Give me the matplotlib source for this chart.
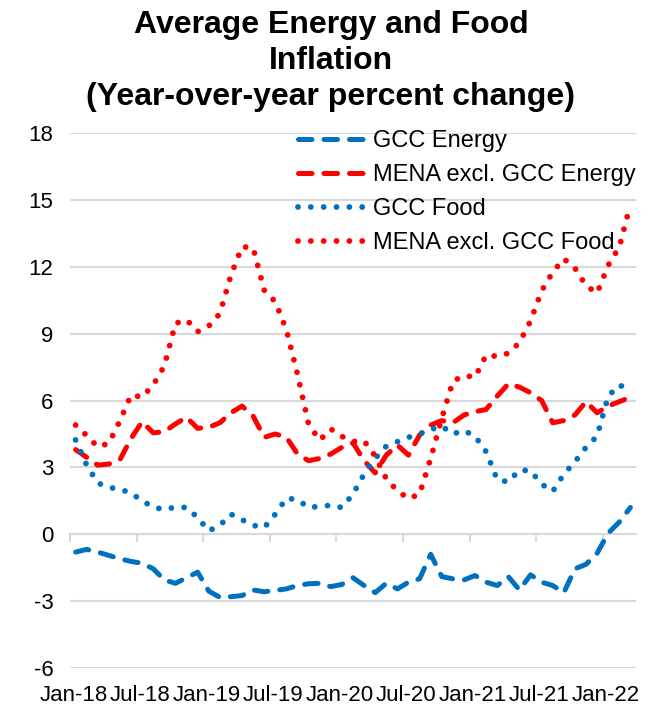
import matplotlib
matplotlib.use("Agg")
import matplotlib.pyplot as plt

plt.rcParams['font.family'] = ['Liberation Sans', 'DejaVu Sans']
plt.rcParams['axes.unicode_minus'] = False

# monthly, Jan-18 .. Mar-22
months = ["Jan-18", "Feb-18", "Mar-18", "Apr-18", "May-18", "Jun-18", "Jul-18", "Aug-18", "Sep-18", "Oct-18", "Nov-18", "Dec-18",
          "Jan-19", "Feb-19", "Mar-19", "Apr-19", "May-19", "Jun-19", "Jul-19", "Aug-19", "Sep-19", "Oct-19", "Nov-19", "Dec-19",
          "Jan-20", "Feb-20", "Mar-20", "Apr-20", "May-20", "Jun-20", "Jul-20", "Aug-20", "Sep-20", "Oct-20", "Nov-20", "Dec-20",
          "Jan-21", "Feb-21", "Mar-21", "Apr-21", "May-21", "Jun-21", "Jul-21", "Aug-21", "Sep-21", "Oct-21", "Nov-21", "Dec-21",
          "Jan-22", "Feb-22", "Mar-22"]

gcc_energy = [-0.8, -0.68, -0.8, -0.95, -1.1, -1.22, -1.3, -1.55, -2.05, -2.2, -1.95, -1.7,
              -2.55, -2.83, -2.8, -2.75, -2.5, -2.58, -2.52, -2.45, -2.3, -2.22, -2.2, -2.35,
              -2.25, -1.95, -2.3, -2.62, -2.2, -2.45, -2.15, -2.0, -0.9, -1.9, -2.0, -2.05,
              -1.85, -2.15, -2.3, -1.9, -2.5, -1.82, -2.15, -2.3, -2.62, -1.55, -1.35, -0.85,
              0.05, 0.55, 1.2]

mena_energy = [3.8, 3.45, 3.1, 3.15, 3.35, 4.3, 5.05, 4.55, 4.6, 4.95, 5.25, 4.75,
               4.8, 5.0, 5.45, 5.75, 5.3, 4.35, 4.5, 4.35, 3.6, 3.3, 3.4, 3.6,
               3.9, 4.1, 3.3, 2.75, 3.55, 4.0, 3.55, 4.45, 4.9, 5.1, 5.0, 5.35,
               5.5, 5.6, 6.2, 6.75, 6.6, 6.35, 6.0, 5.0, 5.1, 5.35, 5.95, 5.45,
               5.75, 5.95, 6.15]

gcc_food = [4.23, 3.1, 2.3, 2.1, 2.02, 1.85, 1.5, 1.22, 1.1, 1.22, 1.2, 0.75,
            0.15, 0.4, 0.9, 0.65, 0.4, 0.3, 0.9, 1.62, 1.55, 1.2, 1.25, 1.3,
            1.2, 1.8, 2.7, 3.4, 3.95, 4.15, 4.35, 4.5, 4.7, 4.85, 4.5, 4.65,
            4.4, 3.7, 2.45, 2.35, 2.88, 2.85, 2.25, 1.92, 2.7, 3.25, 3.9, 4.4,
            6.2, 6.7, 6.45]

mena_food = [4.9, 4.43, 3.92, 4.08, 5.1, 6.25, 6.15, 6.7, 7.55, 9.46, 9.62, 9.09,
             9.34, 9.9, 11.62, 12.9, 12.85, 10.95, 10.43, 9.17, 7.17, 4.93, 4.22, 4.72,
             4.39, 4.16, 4.19, 3.5, 2.49, 1.95, 1.6, 1.8, 3.4, 5.2, 6.86, 7.12,
             7.05, 8.04, 7.98, 8.12, 8.6, 9.57, 10.92, 11.76, 12.36, 11.94, 11.15, 10.82,
             12.07, 12.89, 14.8]

blue = "#0070C0"
red = "#FF0000"
grid_c = "#D9D9D9"

fig = plt.figure(figsize=(6.49, 7.08), dpi=100)
ax = fig.add_axes([0.1079, 0.0565, 0.872, 0.7556])

x = list(range(len(months)))
lw = 3.6
lw_dot = 4.2
dash = (2.7, 2.4)
dot = (0.001, 2.2)

ax.plot(x, gcc_energy, color=blue, lw=lw, dashes=dash, dash_capstyle='round', label="GCC Energy")
ax.plot(x, mena_energy, color=red, lw=lw, dashes=dash, dash_capstyle='round', label="MENA excl. GCC Energy")
ax.plot(x, gcc_food, color=blue, lw=lw_dot, dashes=dot, dash_capstyle='round', label="GCC Food")
ax.plot(x, mena_food, color=red, lw=lw_dot, dashes=dot, dash_capstyle='round', label="MENA excl. GCC Food")

ax.set_xlim(-0.5, len(months) - 0.5)
ax.set_ylim(-6, 18)
ax.set_yticks(range(-6, 19, 3))
ax.yaxis.grid(True, color=grid_c, lw=1.5)
ax.set_axisbelow(True)
for s in ax.spines.values():
    s.set_visible(False)
ax.tick_params(axis='y', length=0, pad=12, labelsize=16)

# category labels at the bottom
lab_idx = list(range(0, len(months), 6))
ax.set_xticks([i - 0.2 for i in lab_idx])
ax.set_xticklabels([months[i] for i in lab_idx], fontsize=16)
ax.tick_params(axis='x', length=0, pad=12)

# horizontal axis line at zero with tick marks between categories
sec = ax.secondary_xaxis(0.25)
sec.set_xticks([i - 0.5 for i in lab_idx])
sec.set_xticklabels([])
sec.tick_params(axis='x', length=6, width=1.5, color=grid_c, direction='out')
sec.spines['bottom'].set_color(grid_c)
sec.spines['bottom'].set_linewidth(1.5)

leg = ax.legend(loc='upper right', bbox_to_anchor=(1.0, 1.005), frameon=False, fontsize=17,
                handlelength=3.0, handletextpad=0.2, labelspacing=0.5, borderpad=0, borderaxespad=0)

fig.text(0.51, 1 - 61 / 708, "Average Energy and Food\nInflation\n(Year-over-year percent change)",
         ha='center', va='center', fontsize=23, fontweight='bold', linespacing=1.25)

fig.savefig("out.png", dpi=100)
